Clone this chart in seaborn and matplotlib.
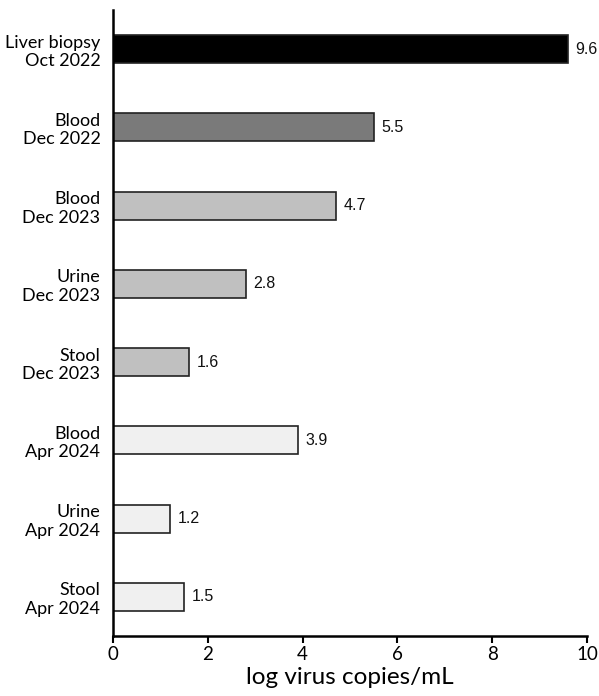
import matplotlib
matplotlib.use("Agg")
import matplotlib.pyplot as plt
import seaborn as sns
import pandas as pd

categories = ["Liver biopsy\nOct 2022", "Blood\nDec 2022", "Blood\nDec 2023", "Urine\nDec 2023",
              "Stool\nDec 2023", "Blood\nApr 2024", "Urine\nApr 2024", "Stool\nApr 2024"]
values = [9.6, 5.5, 4.7, 2.8, 1.6, 3.9, 1.2, 1.5]
labels = ["9.6", "5.5", "4.7", "2.8", "1.6", "3.9", "1.2", "1.5"]
colors = ["#000000", "#7a7a7a", "#c0c0c0", "#c0c0c0", "#c0c0c0", "#f0f0f0", "#f0f0f0", "#f0f0f0"]

df = pd.DataFrame({"cat": categories, "val": values})

sns.set_style("white")
plt.rcParams["font.family"] = ["Lato", "DejaVu Sans"]
plt.rcParams["text.color"] = "black"
plt.rcParams["xtick.color"] = "black"
plt.rcParams["ytick.color"] = "black"
plt.rcParams["axes.labelcolor"] = "black"

fig = plt.figure(figsize=(5.99, 6.96), dpi=100)
ax = fig.add_axes([0.1886, 0.0862, 0.7914, 0.8994])
sns.barplot(data=df, x="val", y="cat", hue="cat", palette=colors, legend=False,
            orient="h", width=0.36, edgecolor="#222222", linewidth=1.2, ax=ax)

for i, (v, t) in enumerate(zip(values, labels)):
    ax.text(v + 0.16, i, t, va="center", ha="left", fontsize=11.5,
            family=["Liberation Sans"], color="#111111")

ax.set_xlim(0, 10)
ax.set_ylim(7.5, -0.5)
ax.set_xticks([0, 2, 4, 6, 8, 10])
ax.set_ylabel("")
ax.set_xlabel("log virus copies/mL", fontsize=17.5, labelpad=3)
ax.tick_params(axis="x", labelsize=13.5, length=5, width=1.5, direction="out", pad=2, bottom=True)
ax.tick_params(axis="y", labelsize=13, length=0, pad=9)
for lbl in ax.get_yticklabels():
    lbl.set_horizontalalignment("right")
    lbl.set_multialignment("right")
    lbl.set_linespacing(1.2)
for s in ["top", "right"]:
    ax.spines[s].set_visible(False)
for s in ["left", "bottom"]:
    ax.spines[s].set_color("black")
    ax.spines[s].set_linewidth(1.8)

fig.savefig("out.png", dpi=100)
